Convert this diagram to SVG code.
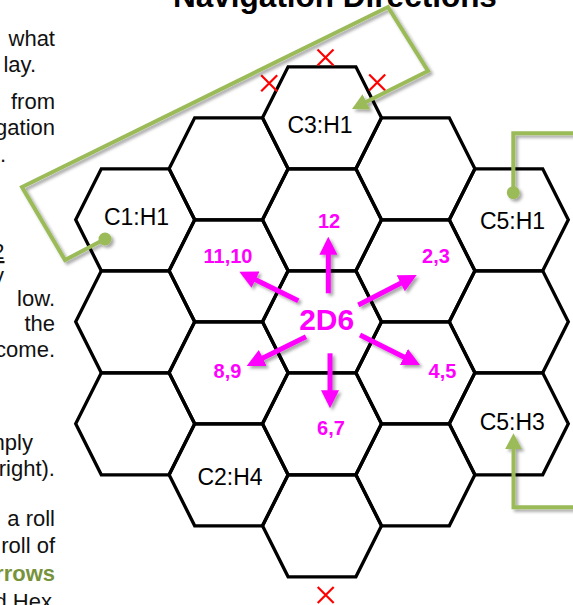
<svg xmlns="http://www.w3.org/2000/svg" xmlns:xlink="http://www.w3.org/1999/xlink" width="573" height="605" viewBox="0 0 573 605">
<style>
.hex{fill:none;stroke:#000;stroke-width:3.3;stroke-linejoin:miter}
.lbl{font-family:"Liberation Sans",Arial,sans-serif;font-size:23px;fill:#000;text-anchor:middle}
.mag{font-family:"Liberation Sans",Arial,sans-serif;font-size:20px;font-weight:bold;fill:#FF00FF;text-anchor:middle}
.body{font-family:"Liberation Sans",Arial,sans-serif;font-size:22px;fill:#111;text-anchor:end}
.title{font-family:"Liberation Sans",Arial,sans-serif;font-size:31.5px;font-weight:bold;fill:#000;text-anchor:middle}
.marr{stroke:#FF00FF;stroke-width:5;fill:none}
.gline{stroke:#9BBB59;stroke-width:4;fill:none;stroke-linejoin:miter}
.gdot{fill:#9BBB59}
.x{stroke:#FF0000;stroke-width:2.2}
</style>
<defs>
<polygon id="hexshape" points="-59.5,0 -33.9,-51 33.9,-51 59.5,0 33.9,51 -33.9,51"/>
<marker id="mh" markerUnits="userSpaceOnUse" markerWidth="18" markerHeight="18" viewBox="0 0 18 18" refX="1" refY="9" orient="auto"><path d="M0,0 L18,9 L0,18 z" fill="#FF00FF"/></marker>
<marker id="gh" markerUnits="userSpaceOnUse" markerWidth="16" markerHeight="17" viewBox="0 0 16 17" refX="1" refY="8.5" orient="auto"><path d="M0,0 L16,8.5 L0,17 z" fill="#9BBB59"/></marker>
<filter id="sh" filterUnits="userSpaceOnUse" x="0" y="0" width="573" height="605"><feDropShadow dx="2.5" dy="2.5" stdDeviation="1.8" flood-color="#000" flood-opacity="0.35"/></filter>
<path id="xmark" d="M-8,-8 L8,8 M8,-8 L-8,8"/>
</defs>
<rect width="573" height="605" fill="#fff"/>

<text class="title" x="335" y="6.5">Navigation Directions</text>

<g id="side-text">
<text class="body" x="55" y="46">what</text>
<text class="body" x="36" y="72">lay.</text>
<text class="body" x="55" y="109">from</text>
<text class="body" x="55" y="135">gation</text>
<text class="body" x="6" y="162">.</text>
<text class="body" x="4.5" y="259" text-decoration="underline">2</text>
<text class="body" x="4" y="283">y</text>
<text class="body" x="55" y="306">low.</text>
<text class="body" x="55" y="331">the</text>
<text class="body" x="55" y="357">come.</text>
<text class="body" x="33" y="450">mply</text>
<text class="body" x="55" y="476">right).</text>
<text class="body" x="55" y="526">a roll</text>
<text class="body" x="55" y="553">roll of</text>
<text class="body" x="55" y="581" style="font-weight:bold;fill:#77933C">rrows</text>
<text class="body" x="52" y="609">d Hex</text>
</g>

<g id="hexes">
<g id="hex-c1-h1"><use xlink:href="#hexshape" class="hex" x="135.2" y="219.8"/><text class="lbl" x="136.5" y="225">C1:H1</text></g>
<g id="hex-m2-1"><use xlink:href="#hexshape" class="hex" x="135.2" y="321.8"/></g>
<g id="hex-m2-2"><use xlink:href="#hexshape" class="hex" x="135.2" y="423.8"/></g>
<g id="hex-m1-0"><use xlink:href="#hexshape" class="hex" x="228.6" y="168.8"/></g>
<g id="hex-m1-1"><use xlink:href="#hexshape" class="hex" x="228.6" y="270.8"/></g>
<g id="hex-m1-2"><use xlink:href="#hexshape" class="hex" x="228.6" y="372.8"/></g>
<g id="hex-c2-h4"><use xlink:href="#hexshape" class="hex" x="228.6" y="474.8"/><text class="lbl" x="230" y="485">C2:H4</text></g>
<g id="hex-c3-h1"><use xlink:href="#hexshape" class="hex" x="322" y="117.8"/><text class="lbl" x="320" y="133">C3:H1</text></g>
<g id="hex-0-1"><use xlink:href="#hexshape" class="hex" x="322" y="219.8"/></g>
<g id="hex-center"><use xlink:href="#hexshape" class="hex" x="322" y="321.8"/></g>
<g id="hex-0-3"><use xlink:href="#hexshape" class="hex" x="322" y="423.8"/></g>
<g id="hex-0-4"><use xlink:href="#hexshape" class="hex" x="322" y="525.8"/></g>
<g id="hex-p1-0"><use xlink:href="#hexshape" class="hex" x="415.4" y="168.8"/></g>
<g id="hex-p1-1"><use xlink:href="#hexshape" class="hex" x="415.4" y="270.8"/></g>
<g id="hex-p1-2"><use xlink:href="#hexshape" class="hex" x="415.4" y="372.8"/></g>
<g id="hex-p1-3"><use xlink:href="#hexshape" class="hex" x="415.4" y="474.8"/></g>
<g id="hex-c5-h1"><use xlink:href="#hexshape" class="hex" x="508.8" y="219.8"/><text class="lbl" x="512.5" y="229">C5:H1</text></g>
<g id="hex-p2-1"><use xlink:href="#hexshape" class="hex" x="508.8" y="321.8"/></g>
<g id="hex-c5-h3"><use xlink:href="#hexshape" class="hex" x="508.8" y="423.8"/><text class="lbl" x="512.3" y="430">C5:H3</text></g>
</g>

<g id="blocked-marks" class="x">
<use xlink:href="#xmark" x="269.2" y="83.3"/>
<use xlink:href="#xmark" x="325.5" y="57.5"/>
<use xlink:href="#xmark" x="377.2" y="82.5"/>
<use xlink:href="#xmark" x="325.7" y="595"/>
</g>

<g id="connectors">
<g id="dice-arrows" filter="url(#sh)">
<line class="marr" x1="328.3" y1="293.3" x2="328.3" y2="253.7" marker-end="url(#mh)"/>
<line class="marr" x1="330" y1="353.3" x2="330" y2="391.3" marker-end="url(#mh)"/>
<line class="marr" x1="298.3" y1="300.7" x2="254.6" y2="279.2" marker-end="url(#mh)"/>
<line class="marr" x1="358.3" y1="305" x2="401.6" y2="282.8" marker-end="url(#mh)"/>
<line class="marr" x1="306" y1="336.7" x2="261.9" y2="358.5" marker-end="url(#mh)"/>
<line class="marr" x1="360" y1="335" x2="404.8" y2="357.4" marker-end="url(#mh)"/>
</g>
<g id="green-links" filter="url(#sh)">
<path class="gline" d="M105,239 L65,260 L22,187 L388,7 L428,71 L365.4,102.3" marker-end="url(#gh)"/>
<circle class="gdot" cx="105" cy="239" r="6.5"/>
<path class="gline" d="M513.3,193 L513.3,133.3 L580,133.3"/>
<circle class="gdot" cx="513.3" cy="192.7" r="6.5"/>
<path class="gline" d="M580,507.3 L513.5,507.3 L513.5,448.3" marker-end="url(#gh)"/>
</g>
</g>

<g id="dice-labels">
<text class="mag" x="326.7" y="330" style="font-size:30px">2D6</text>
<text class="mag" x="329" y="228">12</text>
<text class="mag" x="228" y="262.7">11,10</text>
<text class="mag" x="436" y="263">2,3</text>
<text class="mag" x="227.5" y="378">8,9</text>
<text class="mag" x="442.5" y="378">4,5</text>
<text class="mag" x="331" y="435">6,7</text>
</g>
</svg>
